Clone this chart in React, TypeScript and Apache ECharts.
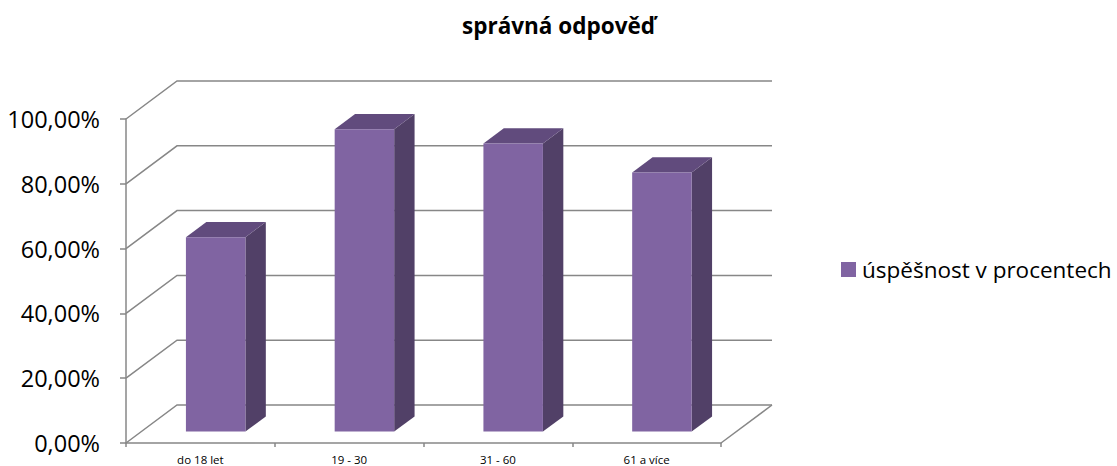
import React, { useEffect, useRef } from "react";
import * as echarts from "echarts";

const title = "správná odpověď";
const seriesName = "úspěšnost v procentech";
const categories = ["do 18 let", "19 - 30", "31 - 60", "61 a více"];
const values = [60.0, 93.3, 88.9, 80.0];
const yTicks = [0, 20, 40, 60, 80, 100];

const FONT = "'Open Sans', 'Noto Sans', sans-serif";
const WALL_DX = 51;
const WALL_DY = -38;
const BAR_FRONT = 0.3; // fraction of depth where bar front sits
const BAR_DEPTH = 0.4; // fraction of depth occupied by bar
const BAR_WIDTH = 0.4; // fraction of category band
const GRID_COLOR = "#878787";

export default function App() {
  const ref = useRef<HTMLDivElement>(null);
  useEffect(() => {
    if (!ref.current) return;
    const chart = echarts.init(ref.current, null, { renderer: "svg" });
    const option = {
      animation: false,
      title: {
        text: title,
        left: "center",
        top: 9,
        textStyle: { fontFamily: FONT, fontSize: 22.5, fontWeight: "bold", color: "#000" },
      },
      legend: {
        data: [seriesName],
        left: 836,
        top: 253,
        itemWidth: 15,
        itemHeight: 15,
        icon: "rect",
        itemGap: 6,
        textStyle: { fontFamily: FONT, fontSize: 22.5, color: "#000", padding: [0, 0, 0, 1] },
      },
      grid: { left: 126, right: 396, top: 119, bottom: 23, containLabel: false },
      xAxis: {
        type: "category",
        data: categories,
        boundaryGap: true,
        axisLine: { show: true, lineStyle: { color: GRID_COLOR, width: 1.5 } },
        axisTick: { show: true, length: 4, lineStyle: { color: GRID_COLOR, width: 1.5 } },
        axisLabel: { fontFamily: FONT, fontSize: 11.5, color: "#000", margin: 10 },
      },
      yAxis: {
        type: "value",
        min: 0,
        max: 100,
        interval: 20,
        axisLine: { show: true, lineStyle: { color: GRID_COLOR, width: 1.5 } },
        axisTick: { show: true, length: 6, lineStyle: { color: GRID_COLOR, width: 1.5 } },
        splitLine: { show: false },
        axisLabel: {
          fontFamily: FONT,
          fontSize: 23.5,
          color: "#000",
          margin: 26,
          formatter: (v: number) => v.toFixed(2).replace(".", ",") + "%",
        },
      },
      series: [
        {
          type: "custom",
          name: "wall",
          z: 1,
          silent: true,
          data: yTicks.map((t) => [0, t]),
          renderItem: (params: any, api: any) => {
            const v = api.value(1);
            const c = api.coord([0, v]);
            const band = api.size([1, 0])[0];
            const left = c[0] - band / 2;
            const right = left + band * categories.length;
            const y = c[1];
            const children: any[] = [
              {
                type: "polyline",
                shape: {
                  points: [
                    [left, y],
                    [left + WALL_DX, y + WALL_DY],
                    [right + WALL_DX, y + WALL_DY],
                  ],
                },
                style: { stroke: GRID_COLOR, lineWidth: 1.5, fill: "none" },
              },
            ];
            if (v === 0) {
              children.push({
                type: "line",
                shape: { x1: right, y1: y, x2: right + WALL_DX, y2: y + WALL_DY },
                style: { stroke: GRID_COLOR, lineWidth: 1.5 },
              });
            }
            return { type: "group", children };
          },
        },
        {
          type: "custom",
          name: seriesName,
          z: 2,
          itemStyle: { color: "#8064A2" },
          data: values.map((v, i) => [i, v]),
          encode: { x: 0, y: 1 },
          renderItem: (params: any, api: any) => {
            const idx = api.value(0);
            const v = api.value(1);
            const top = api.coord([idx, v]);
            const base = api.coord([idx, 0]);
            const band = api.size([1, 0])[0];
            const w = band * BAR_WIDTH;
            const ox = WALL_DX * BAR_FRONT;
            const oy = WALL_DY * BAR_FRONT;
            const dx = WALL_DX * BAR_DEPTH;
            const dy = WALL_DY * BAR_DEPTH;
            const xl = top[0] + ox - w / 2;
            const xr = xl + w;
            const yt = top[1] + oy;
            const yb = base[1] + oy;
            return {
              type: "group",
              children: [
                {
                  type: "polygon",
                  shape: { points: [[xr, yt], [xr + dx, yt + dy], [xr + dx, yb + dy], [xr, yb]] },
                  style: { fill: "#514067" },
                },
                {
                  type: "polygon",
                  shape: { points: [[xl, yt], [xl + dx, yt + dy], [xr + dx, yt + dy], [xr, yt]] },
                  style: { fill: "#614B7D" },
                },
                {
                  type: "rect",
                  shape: { x: xl, y: yt, width: w, height: yb - yt },
                  style: { fill: "#8064A2" },
                },
              ],
            };
          },
        },
      ],
    };
    chart.setOption(option as any);
    return () => chart.dispose();
  }, []);
  return (
    <div
      ref={ref}
      style={{ position: "fixed", left: 0, top: 0, width: 1117, height: 466, background: "#fff" }}
    />
  );
}
